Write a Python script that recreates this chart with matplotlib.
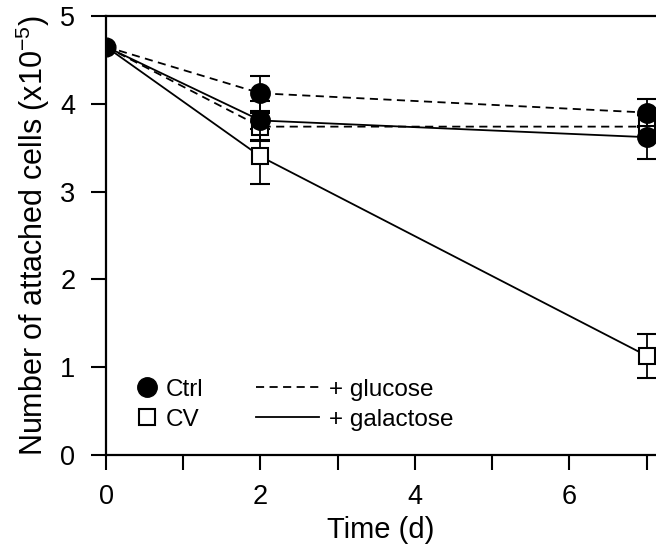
import matplotlib
matplotlib.use("Agg")
import matplotlib.pyplot as plt
from matplotlib.lines import Line2D
from matplotlib.ticker import MultipleLocator

plt.rcParams['font.family'] = ['Liberation Sans', 'DejaVu Sans']
plt.rcParams['mathtext.fontset'] = 'custom'
plt.rcParams['mathtext.rm'] = 'Liberation Sans'
plt.rcParams['mathtext.it'] = 'Liberation Sans:italic'
plt.rcParams['mathtext.bf'] = 'Liberation Sans:bold'

# Data
days = [0, 2, 7]
ctrl_glucose = [4.65, 4.12, 3.90]
ctrl_glucose_err = [0.0, 0.20, 0.15]
ctrl_galactose = [4.65, 3.81, 3.62]
ctrl_galactose_err = [0.0, 0.22, 0.25]
cv_glucose = [4.65, 3.74, 3.74]
cv_glucose_err = [0.0, 0.16, 0.0]
cv_galactose = [4.65, 3.40, 1.13]
cv_galactose_err = [0.0, 0.31, 0.25]

W, H = 656, 545
fig = plt.figure(figsize=(W / 100, H / 100), dpi=100)
ax = fig.add_axes([106 / W, (H - 455) / H, 1 - 106 / W, (455 - 16) / H])

lw = 1.3
dash = (4.5, 3.0)
cap = 7

def series(y, err, ls, marker, mfc, ms, z):
    ax.errorbar(days[1:], y[1:], yerr=err[1:], fmt='none', ecolor='black',
                elinewidth=1.3, capsize=cap, capthick=1.5, zorder=z - 1)
    line, = ax.plot(days, y, color='black', lw=lw, linestyle=ls, zorder=2)
    if ls == '--':
        line.set_dashes(dash)
    ax.plot(days[1:], y[1:], linestyle='none', marker=marker, ms=ms,
            mfc=mfc, mec='black', mew=1.5, zorder=z)

series(cv_glucose, cv_glucose_err, '--', 's', 'white', 12, 4)
series(cv_galactose, cv_galactose_err, '-', 's', 'white', 12, 4)
series(ctrl_glucose, ctrl_glucose_err, '--', 'o', 'black', 13.5, 6)
series(ctrl_galactose, ctrl_galactose_err, '-', 'o', 'black', 13.5, 6)
ax.plot([days[0]], [ctrl_glucose[0]], linestyle='none', marker='o', ms=13.5,
        mfc='black', mec='black', zorder=7)

ax.set_xlim(0, 7.12)
ax.set_ylim(0, 5)
ax.xaxis.set_major_locator(MultipleLocator(2))
ax.xaxis.set_minor_locator(MultipleLocator(1))
ax.yaxis.set_major_locator(MultipleLocator(1))
ax.tick_params(axis='both', which='both', direction='out', length=11,
               width=1.5, labelsize=19.5, color='black')
ax.tick_params(axis='x', pad=10)
ax.tick_params(axis='y', pad=11)
ax.spines['right'].set_visible(False)
for s in ['left', 'bottom', 'top']:
    ax.spines[s].set_linewidth(1.6)

ax.set_xlabel('Time (d)', fontsize=21, labelpad=4)
ax.set_ylabel('Number of attached cells (x10$^{-5}$)', fontsize=22, labelpad=6)

h1 = [Line2D([], [], ls='none', marker='o', ms=14, mfc='black', mec='black'),
      Line2D([], [], ls='none', marker='s', ms=12, mfc='white', mec='black', mew=1.5)]
leg1 = ax.legend(h1, ['Ctrl', 'CV'], loc='lower left', bbox_to_anchor=(0.035, 0.033),
                 frameon=False, fontsize=17.5, handlelength=1.0, handletextpad=0.25,
                 labelspacing=0.32, borderaxespad=0)
ax.add_artist(leg1)
l_dash = Line2D([], [], color='black', lw=lw, ls='--')
l_dash.set_dashes(dash)
h2 = [l_dash, Line2D([], [], color='black', lw=lw, ls='-')]
ax.legend(h2, ['+ glucose', '+ galactose'], loc='lower left', bbox_to_anchor=(0.255, 0.033),
          frameon=False, fontsize=17.5, handlelength=2.6, handletextpad=0.4,
          labelspacing=0.32, borderaxespad=0)

fig.savefig('out.png', dpi=100)
